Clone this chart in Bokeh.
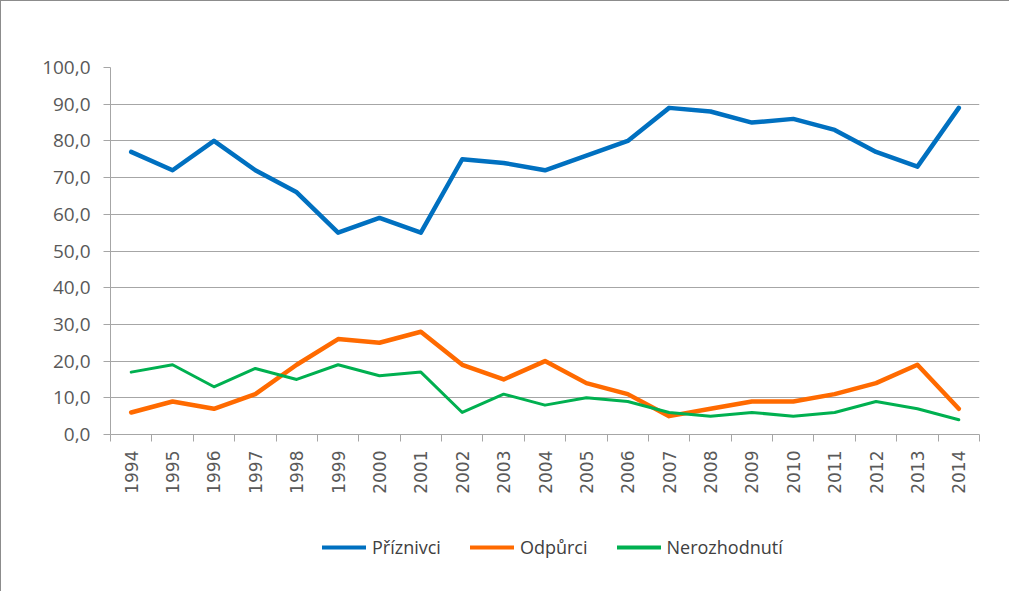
import math
from bokeh.plotting import figure
from bokeh.layouts import column
from bokeh.models import FixedTicker, Legend, LegendItem, Range1d
from bokeh.embed import file_html
from bokeh.resources import INLINE

years = [1994, 1995, 1996, 1997, 1998, 1999, 2000, 2001, 2002, 2003, 2004,
         2005, 2006, 2007, 2008, 2009, 2010, 2011, 2012, 2013, 2014]
priznivci = [77, 72, 80, 72, 66, 55, 59, 55, 75, 74, 72, 76, 80, 89, 88, 85, 86, 83, 77, 73, 89]
odpurci = [6, 9, 7, 11, 19, 26, 25, 28, 19, 15, 20, 14, 11, 5, 7, 9, 9, 11, 14, 19, 7]
nerozhodnuti = [17, 19, 13, 18, 15, 19, 16, 17, 6, 11, 8, 10, 9, 6, 5, 6, 5, 6, 9, 7, 4]
series_names = ["Příznivci", "Odpůrci", "Nerozhodnutí"]
series_colors = ["#0070c0", "#ff6a00", "#00b050"]
series_widths = [4.5, 4.5, 3]
y_ticks = [0, 10, 20, 30, 40, 50, 60, 70, 80, 90, 100]
y_tick_labels = ["0,0", "10,0", "20,0", "30,0", "40,0", "50,0", "60,0", "70,0", "80,0", "90,0", "100,0"]

GRID = "#a6a6a6"
FRAME = "1px solid #8c8c8c"

p = figure(width=1009, height=520, output_backend="svg", toolbar_location=None,
           x_range=Range1d(years[0] - 0.5, years[-1] + 0.5), y_range=Range1d(0, 100),
           min_border_left=109, min_border_right=31, min_border_top=66, min_border_bottom=87)
p.styles = {"border-top": FRAME, "border-left": FRAME}
p.outline_line_color = None
p.background_fill_color = "white"
p.border_fill_color = "white"

p.xgrid.grid_line_color = None
p.ygrid.ticker = FixedTicker(ticks=y_ticks)
p.ygrid.grid_line_color = GRID
p.ygrid.grid_line_width = 1

# y axis
p.yaxis.ticker = FixedTicker(ticks=y_ticks)
p.yaxis.major_label_overrides = {t: l for t, l in zip(y_ticks, y_tick_labels)}
p.yaxis.axis_line_color = GRID
p.yaxis.major_tick_line_color = GRID
p.yaxis.major_tick_in = 0
p.yaxis.major_tick_out = 7
p.yaxis.minor_tick_line_color = None
p.yaxis.major_label_standoff = 13
p.yaxis.major_label_text_font = "Open Sans"
p.yaxis.major_label_text_font_size = "19px"
p.yaxis.major_label_text_color = "#595959"

# x axis
bounds = [y - 0.5 for y in years] + [years[-1] + 0.5]
p.xaxis.ticker = FixedTicker(ticks=years, minor_ticks=bounds)
p.xaxis.major_label_overrides = {y: str(y) for y in years}
p.xaxis.axis_line_color = GRID
p.xaxis.major_tick_line_color = None
p.xaxis.major_tick_in = 0
p.xaxis.major_tick_out = 0
p.xaxis.minor_tick_line_color = GRID
p.xaxis.minor_tick_in = 0
p.xaxis.minor_tick_out = 7
p.xaxis.major_label_orientation = math.pi / 2
p.xaxis.major_label_standoff = 9
p.xaxis.major_label_text_font = "DejaVu Sans"
p.xaxis.major_label_text_font_size = "17px"
p.xaxis.major_label_text_color = "#595959"

for vals, col, w in zip([priznivci, odpurci, nerozhodnuti], series_colors, series_widths):
    p.line(years, vals, line_color=col, line_width=w, line_join="round", line_cap="round")

# legend figure below the chart (frame aligned with the chart frame by the column)
lf = figure(width=1009, height=71, output_backend="svg", toolbar_location=None,
            x_range=Range1d(0, 1), y_range=Range1d(0, 1),
            x_axis_location=None, y_axis_location=None, min_border=0)
lf.styles = {"border-left": FRAME}
lf.outline_line_color = None
lf.xgrid.grid_line_color = None
lf.ygrid.grid_line_color = None
items = []
for name, col in zip(series_names, series_colors):
    # legend swatch renderers, drawn outside the visible range
    r = lf.line([0, 1], [-5, -5], line_color=col, line_width=4, line_cap="round")
    items.append(LegendItem(label=name, renderers=[r]))

legend = Legend(items=items, orientation="horizontal", location=(212, 32))
legend.padding = 0
legend.margin = 0
legend.spacing = 29
legend.glyph_width = 44
legend.label_standoff = 6
legend.border_line_color = None
legend.background_fill_alpha = 0
legend.label_text_font = "Open Sans"
legend.label_text_font_size = "18px"
legend.label_text_color = "#404040"
lf.add_layout(legend)

layout = column(p, lf, spacing=0)
open("out.html", "w").write(file_html(layout, INLINE))
